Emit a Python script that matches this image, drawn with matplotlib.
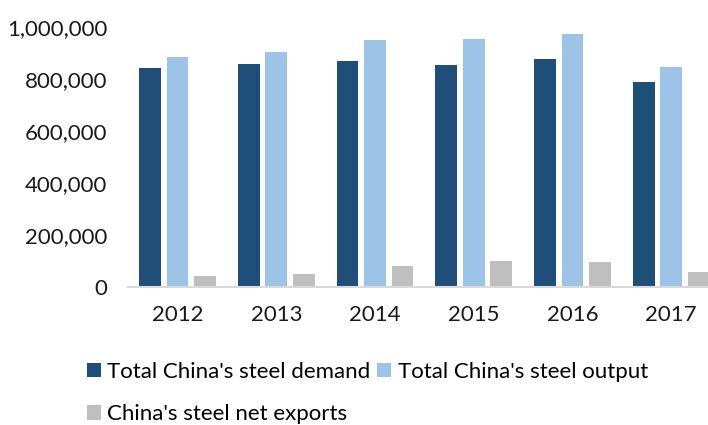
import numpy as np
import matplotlib
matplotlib.use("Agg")
import matplotlib.pyplot as plt
from matplotlib.ticker import FuncFormatter

plt.rcParams['font.family'] = ['Lato', 'DejaVu Sans']

years = ['2012', '2013', '2014', '2015', '2016', '2017']
demand = [841000, 858000, 870000, 854000, 877000, 790000]
output = [883000, 905000, 949000, 952000, 972000, 847000]
net_exports = [43000, 50000, 80000, 100000, 97000, 58000]

c_demand = '#1F4E79'
c_output = '#9DC3E6'
c_exports = '#BFBFBF'

fig = plt.figure(figsize=(7.08, 4.25), dpi=100)
ax = fig.add_axes([0.1812, 0.3247, 0.8364, 0.6118])

x = np.arange(len(years))
w = 0.22
step = 0.278
b1 = ax.bar(x - step, demand, w, color=c_demand, label="Total China's steel demand")
b2 = ax.bar(x, output, w, color=c_output, label="Total China's steel output")
b3 = ax.bar(x + step, net_exports, w, color=c_exports, label="China's steel net exports")

ax.set_xlim(-0.5, len(years) - 0.5)
ax.set_ylim(0, 1000000)
ax.set_yticks(np.arange(0, 1000001, 200000))
ax.yaxis.set_major_formatter(FuncFormatter(lambda v, p: f'{int(v):,}'))
ax.set_xticks(x)
ax.set_xticklabels(years)

for s in ['top', 'right', 'left']:
    ax.spines[s].set_visible(False)
ax.spines['bottom'].set_color('#D9D9D9')
ax.spines['bottom'].set_linewidth(1.5)
ax.tick_params(axis='both', length=0, labelsize=16, colors='#1a1a1a')
ax.tick_params(axis='y', pad=15)
ax.tick_params(axis='x', pad=13)

# column-wise fill: demand/exports in the first column, output in the second
fig.legend([b1, b3, b2],
           ["Total China's steel demand", "China's steel net exports",
            "Total China's steel output"],
           ncol=2, loc='upper left', bbox_to_anchor=(0.107, 0.175),
           frameon=False, fontsize=16, handlelength=0.62, handleheight=0.62,
           handletextpad=0.3, columnspacing=0.3, labelspacing=1.02, borderpad=0)

fig.savefig('out.png', dpi=100)
